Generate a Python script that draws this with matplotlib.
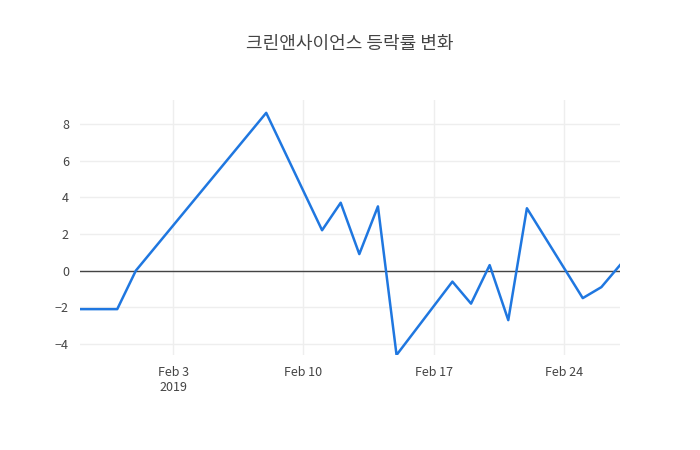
import matplotlib
matplotlib.use("Agg")
import matplotlib.pyplot as plt
import matplotlib.dates as mdates
import pandas as pd

dates = ["2019-01-29","2019-01-31","2019-02-01","2019-02-08","2019-02-11","2019-02-12",
         "2019-02-13","2019-02-14","2019-02-15","2019-02-18","2019-02-19","2019-02-20",
         "2019-02-21","2019-02-22","2019-02-25","2019-02-26","2019-02-27"]
values = [-2.1,-2.1,0.0,8.6,2.2,3.7,0.9,3.5,-4.6,-0.6,-1.8,0.3,-2.7,3.4,-1.5,-0.9,0.3]
title = "크린앤사이언스 등락률 변화"

plt.rcParams['font.family'] = ['Noto Sans CJK KR', 'DejaVu Sans']
x = pd.to_datetime(dates)
fig = plt.figure(figsize=(7, 4.5), dpi=100)
ax = fig.add_axes([80/700, 1-355/450, 540/700, 255/450])
ax.plot(x, values, color="#1f77e0", lw=1.8, zorder=3)
ax.axhline(0, color="#444444", lw=1, zorder=2)
ax.set_xlim(x[0], x[-1])
ax.set_ylim(-4.6, 9.3)
ax.set_yticks([-4,-2,0,2,4,6,8])
ax.set_yticklabels(["−4","−2","0","2","4","6","8"])
ticks = pd.to_datetime(["2019-02-03","2019-02-10","2019-02-17","2019-02-24"])
ax.set_xticks(ticks)
ax.set_xticklabels(["Feb 3\n2019","Feb 10","Feb 17","Feb 24"])
ax.grid(True, color="#eeeeee", lw=1)
for s in ax.spines.values():
    s.set_visible(False)
ax.tick_params(length=0, labelsize=9, colors="#444444", pad=8)
fig.text(0.5, 1-44/450, title, ha="center", va="center", fontsize=13, color="#444444")
fig.savefig("out.png")
